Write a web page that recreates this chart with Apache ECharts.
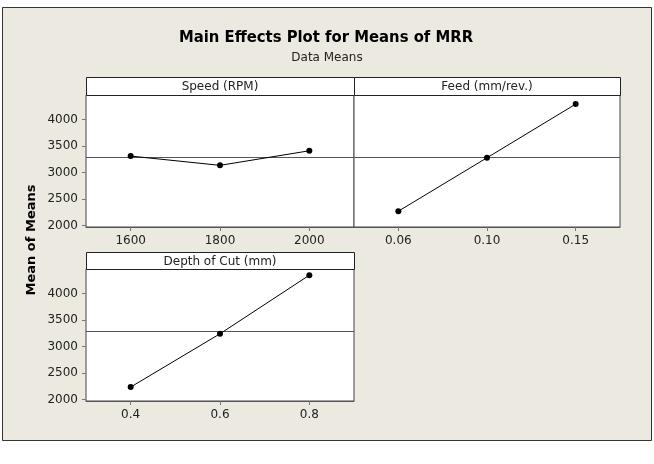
<html>
<head>
<meta charset="utf-8" />
<title>Main Effects Plot for Means of MRR</title>
<style>
  * { margin: 0; padding: 0; }
  body { background: #fff; }
  #chart { width: 654px; height: 464px; }
</style>
<script src="https://cdn.jsdelivr.net/npm/echarts@6/dist/echarts.min.js"></script>
</head>
<body>
<div id="chart"></div>
<script>
// factor levels (x categories)
var speedLevels = ['1600', '1800', '2000'];
var feedLevels = ['0.06', '0.10', '0.15'];
var depthLevels = ['0.4', '0.6', '0.8'];
// mean of means for each level
var speedMeans = [3310, 3135, 3410];
var feedMeans = [2270, 3278, 4290];
var depthMeans = [2235, 3240, 4345];
var grandMean = 3280;
// y tick labels
var yTicks = [2000, 2500, 3000, 3500, 4000];

var font = 'DejaVu Sans';
var yMin = 1972, yMax = 4462;

function xAx(idx, levels) {
  return {
    gridIndex: idx, type: 'category', data: levels, boundaryGap: true,
    axisLine: { show: true, lineStyle: { color: '#555', width: 1 } },
    axisTick: { show: true, alignWithLabel: true, length: 4, lineStyle: { color: '#777' } },
    axisLabel: { color: '#222', fontFamily: font, fontSize: 12, margin: 8 },
    splitLine: { show: false }
  };
}
function yAx(idx, labels) {
  return {
    gridIndex: idx, type: 'value', min: yMin, max: yMax,
    axisLine: { show: false },
    axisTick: { show: labels, length: 4, customValues: yTicks, lineStyle: { color: '#777' } },
    axisLabel: {
      show: labels, customValues: yTicks, color: '#222', fontFamily: font, fontSize: 12, margin: 8,
      formatter: function (v) { return String(v); }
    },
    splitLine: { show: false }
  };
}
function ser(idx, vals) {
  return {
    type: 'line', xAxisIndex: idx, yAxisIndex: idx, data: vals,
    symbol: 'circle', symbolSize: 6, showSymbol: true,
    itemStyle: { color: '#000' },
    lineStyle: { color: '#000', width: 1 },
    markLine: {
      silent: true, symbol: 'none', label: { show: false },
      lineStyle: { color: '#555', width: 1, type: 'solid' },
      data: [{ yAxis: grandMean }]
    },
    z: 5
  };
}
function header(x, y, w, h, txt) {
  return [
    { type: 'rect', shape: { x: x + 0.5, y: y + 0.5, width: w, height: h },
      style: { fill: '#fff', stroke: '#222', lineWidth: 1 }, z: 10 },
    { type: 'text', x: x + w / 2, y: y + h / 2 + 1,
      style: { text: txt, fill: '#222', font: '12px "DejaVu Sans"', align: 'center', verticalAlign: 'middle' }, z: 11 }
  ];
}

var chart = echarts.init(document.getElementById('chart'));
var option = {
  animation: false,
  backgroundColor: '#fff',
  grid: [
    { left: 86, top: 95, width: 268, height: 132, show: true, backgroundColor: '#fff', borderColor: '#444', borderWidth: 1 },
    { left: 354, top: 95, width: 266, height: 132, show: true, backgroundColor: '#fff', borderColor: '#444', borderWidth: 1 },
    { left: 86, top: 269, width: 268, height: 132, show: true, backgroundColor: '#fff', borderColor: '#444', borderWidth: 1 }
  ],
  xAxis: [xAx(0, speedLevels), xAx(1, feedLevels), xAx(2, depthLevels)],
  yAxis: [yAx(0, true), yAx(1, false), yAx(2, true)],
  series: [ser(0, speedMeans), ser(1, feedMeans), ser(2, depthMeans)],
  graphic: [
    { type: 'rect', shape: { x: 2.5, y: 7.5, width: 649, height: 433 },
      style: { fill: '#ECE9E1', stroke: '#333', lineWidth: 1 }, z: -100, silent: true },
    { type: 'text', x: 326, y: 38,
      style: { text: 'Main Effects Plot for Means of MRR', fill: '#000',
        font: 'bold 16.5px "DejaVu Sans Condensed"', align: 'center', verticalAlign: 'middle' } },
    { type: 'text', x: 327, y: 58,
      style: { text: 'Data Means', fill: '#222', font: '12px "DejaVu Sans"', align: 'center', verticalAlign: 'middle' } },
    { type: 'text', x: 32, y: 240, rotation: Math.PI / 2,
      style: { text: 'Mean of Means', fill: '#000', font: 'bold 13px "DejaVu Sans"', align: 'center', verticalAlign: 'middle' } }
  ].concat(header(86, 77, 268, 18, 'Speed (RPM)'))
   .concat(header(354, 77, 266, 18, 'Feed (mm/rev.)'))
   .concat(header(86, 252, 268, 17, 'Depth of Cut (mm)'))
};
chart.setOption(option);
</script>
</body>
</html>
